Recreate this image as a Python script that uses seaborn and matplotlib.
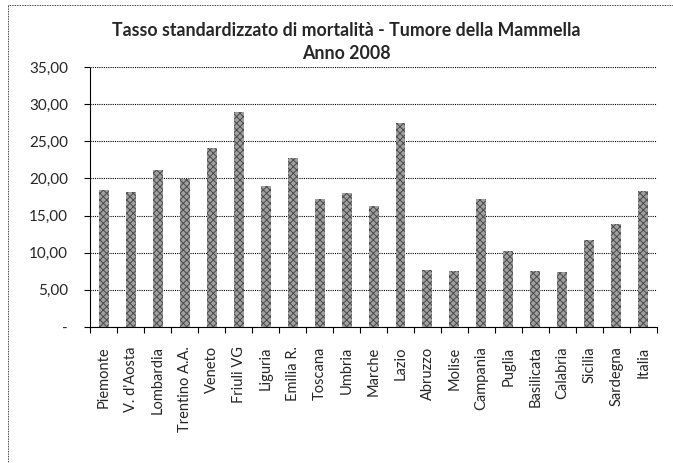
import numpy as np
import pandas as pd
import matplotlib
matplotlib.use("Agg")
import matplotlib.pyplot as plt
import seaborn as sns
from matplotlib.ticker import FuncFormatter, FixedLocator

regions = ["Piemonte", "V. d'Aosta", "Lombardia", "Trentino A.A.", "Veneto", "Friuli VG",
           "Liguria", "Emilia R.", "Toscana", "Umbria", "Marche", "Lazio", "Abruzzo",
           "Molise", "Campania", "Puglia", "Basilicata", "Calabria", "Sicilia",
           "Sardegna", "Italia"]
rates = [18.45, 18.2, 21.15, 19.95, 24.1, 28.9, 19.0, 22.7, 17.2, 18.1, 16.3,
         27.5, 7.65, 7.5, 17.2, 10.25, 7.5, 7.4, 11.65, 13.8, 18.3]
yticks = [0, 5, 10, 15, 20, 25, 30, 35]

sns.set_theme(style="white")
plt.rcParams["font.family"] = ["Lato", "DejaVu Sans"]
plt.rcParams["hatch.linewidth"] = 0.7

df = pd.DataFrame({"regione": regions, "tasso": rates})

fig = plt.figure(figsize=(6.73, 4.63), dpi=100)
ax = fig.add_axes([0.134, 0.294, 0.842, 0.561])
sns.barplot(data=df, x="regione", y="tasso", color="#a0a0a0", width=0.37,
            saturation=1, ax=ax)
for p in ax.patches:
    p.set_hatch("xxxxx")
    p.set_edgecolor("#4a4a4a")
    p.set_linewidth(0)

ax.set_ylim(0, 35)
ax.set_xlim(-0.5, len(regions) - 0.5)
ax.set_yticks(yticks)
ax.yaxis.set_major_formatter(FuncFormatter(
    lambda v, _: "-" if v == 0 else f"{v:.2f}".replace(".", ",")))
ax.yaxis.grid(True, linestyle=(0, (1, 1)), color="black", linewidth=0.8)
ax.set_axisbelow(True)
for s in ["top", "right"]:
    ax.spines[s].set_visible(False)
for s in ["left", "bottom"]:
    ax.spines[s].set_linestyle((0, (1, 1)))
    ax.spines[s].set_color("black")
    ax.spines[s].set_linewidth(0.8)

# category labels centred, tick marks on category boundaries
ax.set_xticks(range(len(regions)))
ax.set_xticklabels(regions, rotation=90, fontsize=10.5)
ax.tick_params(axis="x", length=0, pad=14)
ax.xaxis.set_minor_locator(FixedLocator(np.arange(-0.5, len(regions), 1)))
ax.tick_params(axis="x", which="minor", bottom=True, length=4, width=0.8, color="black")
ax.tick_params(axis="y", left=True, length=4, width=0.8, color="black", labelsize=11, pad=12)
ax.set_xlabel("")
ax.set_ylabel("")

fig.text(0.515, 0.935, "Tasso standardizzato di mortalità - Tumore della Mammella",
         ha="center", va="center", fontsize=12.8, fontweight="bold")
fig.text(0.515, 0.885, "Anno 2008", ha="center", va="center", fontsize=12.8, fontweight="bold")

# dotted chart-area frame (left and top edges)
fig.add_artist(plt.Line2D([0.012, 0.012], [0.0, 0.99], transform=fig.transFigure,
                          color="black", linestyle=(0, (1, 1)), linewidth=0.6))
fig.add_artist(plt.Line2D([0.012, 1.0], [0.99, 0.99], transform=fig.transFigure,
                          color="black", linestyle=(0, (1, 1)), linewidth=0.6))

fig.savefig("out.png", dpi=100)
